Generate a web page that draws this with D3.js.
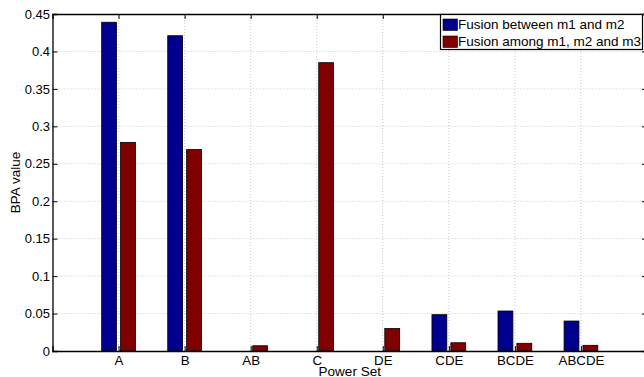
<!DOCTYPE html>
<html>
<head>
<meta charset="utf-8">
<script src="https://cdn.jsdelivr.net/npm/d3@7"></script>
<style>
  body { margin: 0; background: #fff; overflow: hidden; }
  text { font-family: "Liberation Sans", Arial, sans-serif; }
</style>
</head>
<body>
<script>
// categories and values
var categories = ["A", "B", "AB", "C", "DE", "CDE", "BCDE", "ABCDE"];
var fusion12 = [0.439, 0.421, 0, 0, 0, 0.0485, 0.0534, 0.040];
var fusion123 = [0.2786, 0.269, 0.007, 0.385, 0.030, 0.011, 0.0103, 0.0076];
var seriesNames = ["Fusion between m1 and m2", "Fusion among m1, m2 and m3"];
var seriesColors = ["#00008f", "#800000"];
var yTicks = [0, 0.05, 0.1, 0.15, 0.2, 0.25, 0.3, 0.35, 0.4, 0.45];

var W = 644, H = 377;
var pLeft = 52.5, pRight = 647, pTop = 14, pBottom = 351;

var svg = d3.select("body").append("svg")
    .attr("width", W)
    .attr("height", H);

var x = d3.scaleLinear().domain([0, 9]).range([pLeft, pRight]);
var y = d3.scaleLinear().domain([0, 0.45]).range([pBottom, pTop]);

// grid
var grid = svg.append("g");
grid.selectAll(".gy").data(yTicks.slice(1, -1)).enter().append("line")
    .attr("x1", pLeft).attr("x2", pRight)
    .attr("y1", function(d) { return y(d); })
    .attr("y2", function(d) { return y(d); })
    .attr("stroke", "#c8c8c8").attr("stroke-dasharray", "1,2");
grid.selectAll(".gx").data(categories).enter().append("line")
    .attr("x1", function(d, i) { return x(i + 1); })
    .attr("x2", function(d, i) { return x(i + 1); })
    .attr("y1", pTop).attr("y2", pBottom)
    .attr("stroke", "#c8c8c8").attr("stroke-dasharray", "1,2");

// bars
var barW = 0.225, off = 0.143;
var series = [fusion12, fusion123];
series.forEach(function(vals, s) {
    svg.append("g").selectAll("rect")
        .data(vals)
        .enter()
            .append("rect")
            .attr("x", function(d, i) { return x(i + 1 + (s === 0 ? -off : off) - barW / 2); })
            .attr("width", x(barW) - x(0))
            .attr("y", function(d) { return y(d); })
            .attr("height", function(d) { return y(0) - y(d); })
            .attr("fill", seriesColors[s])
            .attr("stroke", function(d) { return d > 0 ? "#000" : "none"; })
            .attr("stroke-width", 0.8);
});

// axes
var yAxis = d3.axisLeft(y).tickValues(yTicks).tickSize(-5).tickPadding(2.5)
    .tickFormat(function(d) { return d === 0 ? "0" : String(+d.toFixed(2)); });
var gy = svg.append("g").attr("transform", "translate(" + pLeft + ",0)").call(yAxis);
var yAxisR = d3.axisRight(y).tickValues(yTicks).tickSize(-5).tickFormat("");
var gyr = svg.append("g").attr("transform", "translate(" + pRight + ",0)").call(yAxisR);

var xAxis = d3.axisBottom(x).tickValues(d3.range(1, 9)).tickSize(-5).tickPadding(5)
    .tickFormat(function(d) { return categories[d - 1]; });
var gx = svg.append("g").attr("transform", "translate(0," + pBottom + ")").call(xAxis);
var xAxisT = d3.axisTop(x).tickValues(d3.range(1, 9)).tickSize(-5).tickFormat("");
var gxt = svg.append("g").attr("transform", "translate(0," + pTop + ")").call(xAxisT);

[gy, gyr, gx, gxt].forEach(function(g) {
    g.selectAll("path").attr("stroke", "#000").attr("stroke-width", 1.3);
    g.selectAll("line").attr("stroke", "#000");
    g.selectAll("text").attr("fill", "#000").style("font-size", "13.3px")
        .style("font-family", "'Liberation Sans', Arial, sans-serif");
});
gy.selectAll("text").style("font-size", "13px");

// axis labels
svg.append("text")
    .attr("x", (pLeft + pRight) / 2).attr("y", 376)
    .attr("text-anchor", "middle")
    .style("font-size", "13.5px")
    .text("Power Set");
svg.append("text")
    .attr("transform", "translate(20," + (pTop + pBottom) / 2 + ") rotate(-90)")
    .attr("text-anchor", "middle")
    .style("font-size", "13.5px")
    .text("BPA value");

// legend
var lg = svg.append("g");
lg.append("rect")
    .attr("x", 440.5).attr("y", 14.5)
    .attr("width", 202).attr("height", 35)
    .attr("fill", "#fff").attr("stroke", "#000").attr("stroke-width", 1.2);
seriesNames.forEach(function(name, i) {
    lg.append("rect")
        .attr("x", 443).attr("y", 19 + i * 17)
        .attr("width", 14.5).attr("height", 11.5)
        .attr("fill", seriesColors[i]).attr("stroke", "#000").attr("stroke-width", 0.6);
    lg.append("text")
        .attr("x", 458).attr("y", 28.5 + i * 17)
        .style("font-size", "13.5px")
        .text(name);
});
</script>
</body>
</html>
